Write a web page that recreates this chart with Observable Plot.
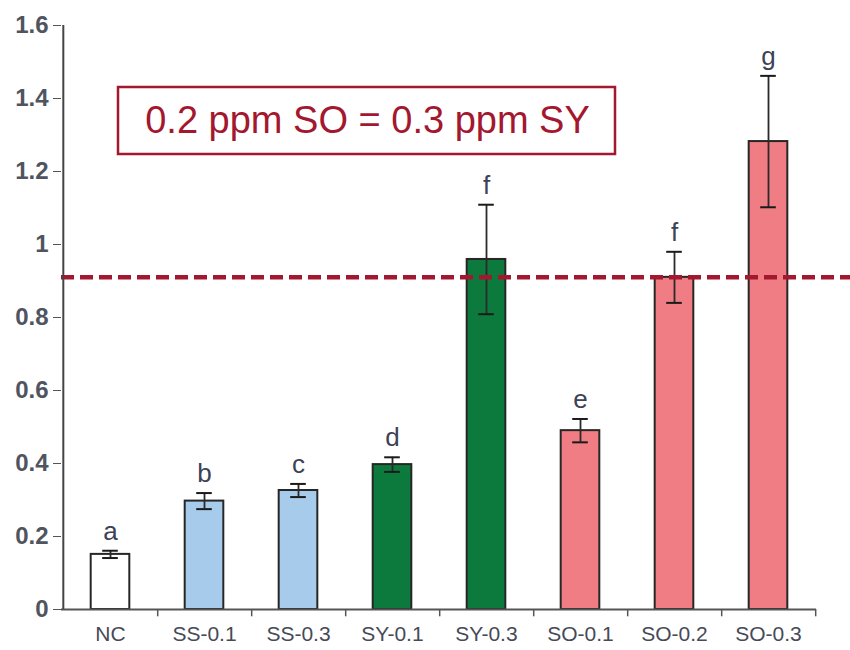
<!DOCTYPE html>
<html>
<head>
<meta charset="utf-8">
<script src="https://cdn.jsdelivr.net/npm/d3@7"></script>
<script src="https://cdn.jsdelivr.net/npm/@observablehq/plot@0.6"></script>
<style>
  html, body { margin: 0; padding: 0; background: #fff; }
  #chart { width: 850px; height: 650px; }
</style>
</head>
<body>
<div id="chart"></div>
<script>
const categories = ["NC", "SS-0.1", "SS-0.3", "SY-0.1", "SY-0.3", "SO-0.1", "SO-0.2", "SO-0.3"];
const groups = ["NC", "SS", "SS", "SY", "SY", "SO", "SO", "SO"];
const means = [0.151, 0.297, 0.326, 0.397, 0.959, 0.490, 0.910, 1.282];
const errors = [0.010, 0.022, 0.018, 0.020, 0.150, 0.032, 0.070, 0.180];
const letters = ["a", "b", "c", "d", "f", "e", "f", "g"];
const groupColors = {NC: "#ffffff", SS: "#a6cbeb", SY: "#0d7a3d", SO: "#f07d83"};
const yTicks = [0, 0.2, 0.4, 0.6, 0.8, 1, 1.2, 1.4, 1.6];
const yTickLabels = ["0", "0.2", "0.4", "0.6", "0.8", "1", "1.2", "1.4", "1.6"];
const referenceLevel = 0.91;
const annotation = "0.2 ppm SO = 0.3 ppm SY";

const data = categories.map((c, i) => ({
  cat: c, group: groups[i], mean: means[i], err: errors[i], letter: letters[i],
  lo: means[i] - errors[i], hi: means[i] + errors[i]
}));

const W = 850, H = 650, ML = 61, MR = 34, MT = 25, MB = 41;
const step = (W - ML - MR) / categories.length;
const barInset = (step - 39) / 2;
const capInset = (step - 16) / 2;
const darkRed = "#a3172f";

const boxMark = (index, scales, values, dims) => {
  const g = d3.create("svg:g");
  g.append("rect")
    .attr("x", dims.marginLeft + 57).attr("y", dims.marginTop + 62)
    .attr("width", 497).attr("height", 67)
    .attr("fill", "white").attr("stroke", darkRed).attr("stroke-width", 2.5);
  return g.node();
};

const plot = Plot.plot({
  width: W, height: H,
  marginLeft: ML, marginRight: MR, marginTop: MT, marginBottom: MB,
  style: {fontFamily: "'Liberation Sans', Arial, sans-serif", background: "white"},
  x: {domain: categories, padding: 0},
  y: {domain: [0, 1.6]},
  marks: [
    Plot.barY(data, {x: "cat", y: "mean", fill: d => groupColors[d.group],
      stroke: "#262626", strokeWidth: 2, insetLeft: barInset, insetRight: barInset}),
    Plot.ruleX(data, {x: "cat", y1: "lo", y2: "hi", stroke: "#2a2a2a", strokeWidth: 1.8}),
    Plot.tickY(data, {x: "cat", y: "lo", stroke: "#1a1a1a", strokeWidth: 2, insetLeft: capInset, insetRight: capInset}),
    Plot.tickY(data, {x: "cat", y: "hi", stroke: "#1a1a1a", strokeWidth: 2, insetLeft: capInset, insetRight: capInset}),
    Plot.text(data, {x: "cat", y: "hi", text: "letter", lineAnchor: "bottom", dy: -11,
      fontSize: 26, fill: "#3c4257"}),
    Plot.ruleY([referenceLevel], {stroke: darkRed, strokeWidth: 4.5, strokeDasharray: "13,6", insetRight: -MR}),
    // axis lines
    Plot.ruleY([0], {stroke: "#555", strokeWidth: 2}),
    Plot.ruleX([categories[0]], {dx: -step / 2, y1: 0, y2: 1.6, stroke: "#444", strokeWidth: 2}),
    Plot.ruleX(categories, {x: d => d, dx: step / 2, y1: 0, y2: -0.02, stroke: "#555", strokeWidth: 1.5}),
    Plot.axisY({ticks: yTicks, tickFormat: (d, i) => yTickLabels[i], tickSize: 8, tickPadding: 5,
      fontSize: 24, fontWeight: "bold", fill: "#50545f", stroke: "#555", label: null}),
    Plot.axisX({tickSize: 0, tickPadding: 17, fontSize: 21, fill: "#464a57", label: null}),
    boxMark,
    Plot.text([annotation], {frameAnchor: "top-left", dx: 306, dy: 95, text: d => d,
      textAnchor: "middle", lineAnchor: "middle", fontSize: 38, fill: darkRed})
  ]
});
document.getElementById("chart").appendChild(plot);
</script>
</body>
</html>
